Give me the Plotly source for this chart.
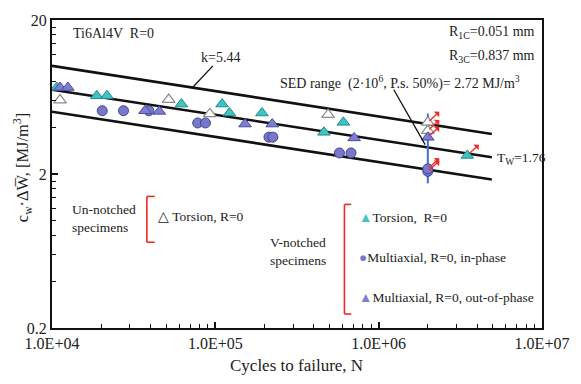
import numpy as np
import plotly.graph_objects as go

# ---------------- data ----------------
# V-notched, torsion R=0 (cyan triangles)
tors_N = [1.07e4, 1.88e4, 2.17e4, 6.2e4, 1.10e5, 1.22e5, 1.93e5, 6.08e5, 4.62e5]
tors_W = [7.29, 6.44, 6.44, 5.69, 5.69, 4.98, 4.98, 4.33, 3.73]
tors_run_N = [3.49e6]
tors_run_W = [2.64]

# V-notched, multiaxial in-phase (circles)
inph_N = [2.03e4, 2.74e4, 3.92e4, 7.8e4, 8.7e4, 2.13e5, 2.25e5, 5.75e5, 6.77e5]
inph_W = [5.15, 5.15, 5.15, 4.29, 4.29, 3.47, 3.47, 2.74, 2.74]
inph_run_N = [2.0e6, 2.0e6]
inph_run_W = [2.08, 2.16]

# V-notched, multiaxial out-of-phase (purple triangles)
outp_N = [1.12e4, 1.25e4, 3.71e4, 4.54e4, 1.52e5, 2.23e5, 7.08e5]
outp_W = [7.29, 7.29, 5.15, 5.10, 4.22, 4.22, 3.43]
outp_run_N = [2.0e6]
outp_run_W = [3.46]

# Un-notched, torsion R=0 (open triangles)
unn_N = [1.12e4, 5.18e4, 9.25e4, 4.9e5]
unn_W = [6.04, 6.09, 4.91, 4.86]
unn_run_N = [2.0e6, 2.0e6]
unn_run_W = [4.33, 3.83]

# scatter band (k = 5.44, T_W = 1.76)
band_N = [1.0e4, 4.93e6]
band_upper = [10.08, 3.64]
band_mean = [7.05, 2.57]
band_lower = [5.08, 1.84]

# SED range marker at 2e6
sed_N = [2.0e6, 2.0e6]
sed_W = [1.74, 4.93]

x_ticks = [1e4, 1e5, 1e6, 1e7]
x_ticktext = ["1.0E+04", "1.0E+05", "1.0E+06", "1.0E+07"]
y_ticks = [0.2, 2, 20]
y_ticktext = ["0.2", "2", "20"]
x_minor = [m * 10 ** e for e in (4, 5, 6) for m in range(2, 10)]
y_minor = [0.2 * m for m in range(2, 10)] + [2 * m for m in range(2, 10)]

# ---------------- styles ----------------
FONT = "Liberation Serif, Times New Roman, serif"
C_CYAN, C_CYAN_L = "#3fc3c3", "#238a8a"
C_PURP, C_PURP_L = "#7d7dd2", "#4a4aa0"
C_CIRC, C_CIRC_L = "#7878c8", "#43439c"
C_OPEN_L = "#8a8a8a"
RED = "#ee2a24"

W_PX, H_PX = 581, 384
L, R, T, B = 52, 28, 19, 56
PW, PH = W_PX - L - R, H_PX - T - B


def P(px, py):
    return (px - L) / PW, (H_PX - B - py) / PH


fig = go.Figure()

for yy in (band_upper, band_mean, band_lower):
    fig.add_trace(go.Scatter(x=band_N, y=yy, mode="lines",
                             line=dict(color="#111111", width=2.6),
                             showlegend=False, hoverinfo="skip"))

fig.add_trace(go.Scatter(x=sed_N, y=sed_W, mode="lines",
                         line=dict(color="#3f6fd0", width=2),
                         showlegend=False, hoverinfo="skip"))

fig.add_trace(go.Scatter(x=unn_N + unn_run_N, y=unn_W + unn_run_W, mode="markers",
                         marker=dict(symbol="triangle-up", size=11, color="white",
                                     line=dict(color=C_OPEN_L, width=1.2)),
                         showlegend=False))
fig.add_trace(go.Scatter(x=tors_N + tors_run_N, y=tors_W + tors_run_W, mode="markers",
                         marker=dict(symbol="triangle-up", size=11, color=C_CYAN,
                                     line=dict(color=C_CYAN_L, width=1)),
                         showlegend=False))
fig.add_trace(go.Scatter(x=inph_N + inph_run_N, y=inph_W + inph_run_W, mode="markers",
                         marker=dict(symbol="circle", size=10, color=C_CIRC,
                                     line=dict(color=C_CIRC_L, width=1)),
                         showlegend=False))
fig.add_trace(go.Scatter(x=outp_N + outp_run_N, y=outp_W + outp_run_W, mode="markers",
                         marker=dict(symbol="triangle-up", size=11, color=C_PURP,
                                     line=dict(color=C_PURP_L, width=1)),
                         showlegend=False))

annotations = []
# run-out arrows
for xs, ys in ((unn_run_N, unn_run_W), (tors_run_N, tors_run_W),
               (inph_run_N, inph_run_W), (outp_run_N, outp_run_W)):
    for xv, yv in zip(xs, ys):
        annotations.append(dict(x=np.log10(xv), y=np.log10(yv), xref="x", yref="y",
                                text="", showarrow=True, ax=13, ay=-12,
                                arrowside="start", arrowhead=2, arrowsize=1,
                                arrowwidth=1.3, arrowcolor=RED, standoff=2))


def txt(text, px, py, xanchor="left", size=14, yanchor="middle", align="left"):
    x, y = P(px, py)
    annotations.append(dict(x=x, y=y, xref="paper", yref="paper", text=text,
                            showarrow=False, xanchor=xanchor, yanchor=yanchor,
                            align=align, font=dict(family=FONT, size=size, color="#222")))


txt("Ti6Al4V  R=0", 71, 33)
txt("k=5.44", 202, 57)
txt("R<sub>1C</sub>=0.051 mm", 548, 32, xanchor="right")
txt("R<sub>3C</sub>=0.837 mm", 548, 56, xanchor="right")
txt("SED range  (2·10<sup>6</sup>, P.s. 50%)= 2.72 MJ/m<sup>3</sup>", 533, 82,
    xanchor="right", size=14)
txt("T<sub>W</sub>=1.76", 505, 158, size=13.5)
txt("Un-notched<br>specimens", 70, 218, size=13.5)
txt("△ Torsion, R=0", 158, 216, size=13.5)
txt("V-notched<br>specimens", 334, 251, xanchor="right", size=13.5)
txt(f"<span style='color:{C_CYAN}'>▲</span>Torsion,  R=0", 364, 217, size=13.5)
txt(f"<span style='color:{C_CIRC}'>●</span>Multiaxial, R=0, in-phase", 364, 257, size=13.5)
txt(f"<span style='color:{C_PURP}'>▲</span>Multiaxial, R=0, out-of-phase", 364, 297, size=13.5)

# axis titles
x, y = P(302, 366)
annotations.append(dict(x=x, y=y, xref="paper", yref="paper", text="Cycles to failure, N",
                        showarrow=False, xanchor="center", yanchor="middle",
                        font=dict(family=FONT, size=17, color="#222")))
x, y = P(21, 167)
annotations.append(dict(x=x, y=y, xref="paper", yref="paper",
                        text="c<sub>w</sub>·ΔW\u0305, [MJ/m<sup>3</sup>]",
                        showarrow=False, textangle=-90, xanchor="center", yanchor="middle",
                        font=dict(family=FONT, size=16.5, color="#222")))

shapes = []


def seg(p1, p2, color, width):
    x0, y0 = P(*p1)
    x1, y1 = P(*p2)
    shapes.append(dict(type="line", xref="paper", yref="paper", x0=x0, y0=y0, x1=x1, y1=y1,
                       line=dict(color=color, width=width)))


# leader lines
seg((216.5, 65), (195, 87.5), "#111", 1.3)
seg((401.5, 89), (433.5, 144), "#111", 1.3)
# red brackets
seg((149, 196), (149, 242), RED, 1.6)
seg((149, 196), (157, 196), RED, 1.6)
seg((149, 242), (157, 242), RED, 1.6)
seg((351, 204), (351, 314), RED, 1.6)
seg((351, 204), (358, 204), RED, 1.6)
seg((351, 314), (358, 314), RED, 1.6)

axis_common = dict(showgrid=False, zeroline=False, showline=True, linecolor="#111",
                   linewidth=2.2, mirror=True, ticks="inside", ticklen=6, tickwidth=1.5,
                   tickcolor="#111", tickfont=dict(family=FONT, size=16, color="#222"))

fig.update_layout(
    width=W_PX, height=H_PX,
    margin=dict(l=L, r=R, t=T, b=B),
    paper_bgcolor="white", plot_bgcolor="white",
    showlegend=False,
    xaxis=dict(type="log", range=[4, 7], tickmode="array", tickvals=x_ticks,
               ticktext=x_ticktext,
               minor=dict(tickmode="array", tickvals=x_minor, ticks="inside", ticklen=4,
                          tickwidth=1.2, tickcolor="#111", showgrid=False),
               **axis_common),
    yaxis=dict(type="log", range=[np.log10(0.2), np.log10(20)], tickmode="array",
               tickvals=y_ticks, ticktext=y_ticktext,
               minor=dict(tickmode="array", tickvals=y_minor, ticks="inside", ticklen=4,
                          tickwidth=1.2, tickcolor="#111", showgrid=False),
               **axis_common),
    annotations=annotations,
    shapes=shapes,
)

fig.write_html("out.html")
